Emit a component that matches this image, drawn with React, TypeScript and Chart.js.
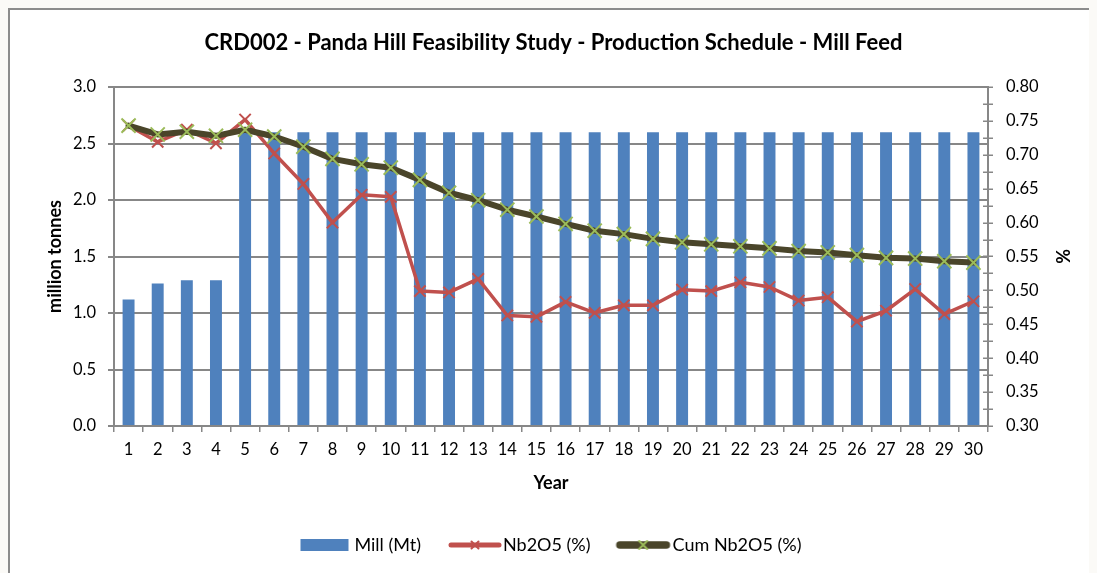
import React, { useEffect, useRef } from "react";
import { Chart, registerables } from "chart.js";

Chart.register(...registerables);

const years = ["1","2","3","4","5","6","7","8","9","10","11","12","13","14","15","16","17","18","19","20","21","22","23","24","25","26","27","28","29","30"];
const millMt = [1.12,1.26,1.29,1.29,2.6,2.6,2.6,2.6,2.6,2.6,2.6,2.6,2.6,2.6,2.6,2.6,2.6,2.6,2.6,2.6,2.6,2.6,2.6,2.6,2.6,2.6,2.6,2.6,2.6,2.6];
const nb2o5 = [0.743,0.719,0.737,0.717,0.752,0.702,0.657,0.600,0.641,0.638,0.499,0.497,0.517,0.463,0.461,0.483,0.467,0.478,0.478,0.501,0.499,0.512,0.505,0.485,0.490,0.454,0.470,0.502,0.465,0.484];
const cumNb2o5 = [0.743,0.730,0.734,0.728,0.737,0.727,0.712,0.694,0.686,0.681,0.663,0.644,0.633,0.619,0.609,0.598,0.588,0.583,0.576,0.571,0.568,0.565,0.562,0.558,0.556,0.552,0.548,0.547,0.543,0.541];
const seriesNames = ["Mill (Mt)", "Nb2O5 (%)", "Cum Nb2O5 (%)"];
const chartTitle = "CRD002 - Panda Hill Feasibility Study - Production Schedule - Mill Feed";

const BLUE = "#4f81bd";
const RED = "#c0504d";
const OLIVE = "#4a452a";
const GREEN = "#9bbb59";
const GREY = "#878787";
const FONT = "Lato";

// legend icon canvases are 100px wide, centred on the legend box; the
// visible symbol is drawn towards the right so it sits next to the text
function makeBarIcon(): HTMLCanvasElement {
  const c = document.createElement("canvas");
  c.width = 100; c.height = 16;
  const ctx = c.getContext("2d")!;
  ctx.fillStyle = BLUE;
  ctx.fillRect(25, 2, 48, 12);
  return c;
}

function makeLineIcon(x0: number, x1: number, line: string, lw: number, marker: string, r: number, mw: number): HTMLCanvasElement {
  const c = document.createElement("canvas");
  c.width = 100; c.height = 16;
  const ctx = c.getContext("2d")!;
  ctx.strokeStyle = line;
  ctx.lineWidth = lw;
  ctx.lineCap = "round";
  ctx.beginPath();
  ctx.moveTo(x0 + lw / 2, 8);
  ctx.lineTo(x1 - lw / 2, 8);
  ctx.stroke();
  const cx = (x0 + x1) / 2;
  ctx.strokeStyle = marker;
  ctx.lineWidth = mw;
  ctx.beginPath();
  ctx.moveTo(cx - r, 8 - r); ctx.lineTo(cx + r, 8 + r);
  ctx.moveTo(cx - r, 8 + r); ctx.lineTo(cx + r, 8 - r);
  ctx.stroke();
  return c;
}

const crossTicks = {
  id: "crossTicks",
  afterDraw(chart: any) {
    const s = chart.scales.y1;
    const ctx = chart.ctx;
    ctx.save();
    ctx.strokeStyle = GREY;
    ctx.lineWidth = 1.5;
    const step = 0.025;
    const n = Math.round((s.max - s.min) / step);
    for (let i = 0; i <= n; i++) {
      const y = Math.round(s.getPixelForValue(s.min + i * step)) + 0.25;
      ctx.beginPath();
      ctx.moveTo(s.left - 5, y);
      ctx.lineTo(s.left + 5, y);
      ctx.stroke();
    }
    ctx.restore();
  },
};

export default function App() {
  const ref = useRef<HTMLCanvasElement | null>(null);

  useEffect(() => {
    document.body.style.background = "#fbfaf7";
    const icons = [
      makeBarIcon(),
      makeLineIcon(24.5, 77.5, RED, 5, RED, 3.5, 2),
      makeLineIcon(22.5, 76.5, OLIVE, 7.5, GREEN, 4, 2),
    ];
    const chart = new Chart(ref.current!, {
      type: "bar",
      data: {
        labels: years,
        datasets: [
          {
            type: "line",
            label: seriesNames[2],
            data: cumNb2o5,
            yAxisID: "y1",
            borderColor: OLIVE,
            borderWidth: 6,
            pointStyle: "crossRot",
            pointRadius: 10,
            pointBorderColor: GREEN,
            pointBorderWidth: 2,
            pointBackgroundColor: GREEN,
            tension: 0,
            borderJoinStyle: "round",
            borderCapStyle: "round",
            order: 1,
          } as any,
          {
            type: "line",
            label: seriesNames[1],
            data: nb2o5,
            yAxisID: "y1",
            borderColor: RED,
            borderWidth: 3.5,
            pointStyle: "crossRot",
            pointRadius: 8,
            pointBorderColor: RED,
            pointBorderWidth: 2,
            pointBackgroundColor: RED,
            tension: 0,
            borderJoinStyle: "round",
            order: 2,
          } as any,
          {
            type: "bar",
            label: seriesNames[0],
            data: millMt,
            yAxisID: "y",
            backgroundColor: BLUE,
            borderWidth: 0,
            barPercentage: 0.82,
            categoryPercentage: 0.5,
            order: 3,
          } as any,
        ],
      },
      options: {
        responsive: false,
        animation: false,
        devicePixelRatio: 1,
        layout: { padding: { left: 0, right: 0, top: 0, bottom: 9 } },
        plugins: {
          tooltip: { enabled: false },
          title: {
            display: true,
            text: chartTitle,
            color: "#000",
            font: { family: FONT, size: 22, weight: "bold" },
            padding: { top: 19.8, bottom: 30.8 },
          },
          legend: {
            display: true,
            position: "bottom",
            labels: {
              usePointStyle: true,
              pointStyleWidth: 40,
              padding: 33,
              color: "#000",
              font: { family: FONT, size: 18 },
              generateLabels: () => [0, 1, 2].map((i) => ({
                text: seriesNames[i],
                fillStyle: "transparent",
                strokeStyle: "transparent",
                lineWidth: 0,
                pointStyle: icons[i],
                hidden: false,
                datasetIndex: 2 - i,
                fontColor: "#000",
              })) as any,
            },
          },
        },
        scales: {
          x: {
            offset: true,
            grid: { display: true, offset: true, drawOnChartArea: false, drawTicks: true, tickLength: 6, color: GREY, lineWidth: 1.5 },
            border: { display: true, color: GREY, width: 2 },
            ticks: { color: "#000", font: { family: FONT, size: 16.5 }, padding: 8, maxRotation: 0, autoSkip: false },
            title: { display: true, text: "Year", color: "#000", font: { family: FONT, size: 18, weight: "bold" }, padding: { top: 0, bottom: 9.2 } },
            afterFit: (s: any) => { s.height = 77; },
          },
          y: {
            position: "left",
            min: 0,
            max: 3,
            ticks: { stepSize: 0.5, color: "#000", font: { family: FONT, size: 16.5 }, padding: 12, callback: (v: any) => Number(v).toFixed(1) },
            grid: { color: GREY, lineWidth: 2, drawTicks: true, tickLength: 6 },
            border: { display: true, color: GREY, width: 2 },
            title: { display: true, text: "million tonnes", color: "#000", font: { family: FONT, size: 18, weight: "bold" }, padding: { top: 34, bottom: 0 } },
            afterFit: (s: any) => { s.width = 104; },
          },
          y1: {
            position: "right",
            min: 0.3,
            max: 0.8,
            ticks: { stepSize: 0.05, color: "#000", font: { family: FONT, size: 16.5 }, padding: 18, callback: (v: any) => Number(v).toFixed(2) },
            grid: { drawOnChartArea: false, drawTicks: false },
            border: { display: true, color: GREY, width: 2 },
            title: { display: true, text: "%", color: "#000", font: { family: FONT, size: 18, weight: "bold" }, padding: { top: 24, bottom: 0 } },
            afterFit: (s: any) => { s.width = 109; },
          },
        },
      } as any,
      plugins: [crossTicks],
    });
    return () => chart.destroy();
  }, []);

  return (
    <div style={{ width: 1087, height: 563, borderLeft: "2px solid #8c8c8c", borderTop: "2px solid #8c8c8c", background: "#fff" }}>
      <canvas ref={ref} width={1087} height={563} style={{ display: "block" }} />
    </div>
  );
}
